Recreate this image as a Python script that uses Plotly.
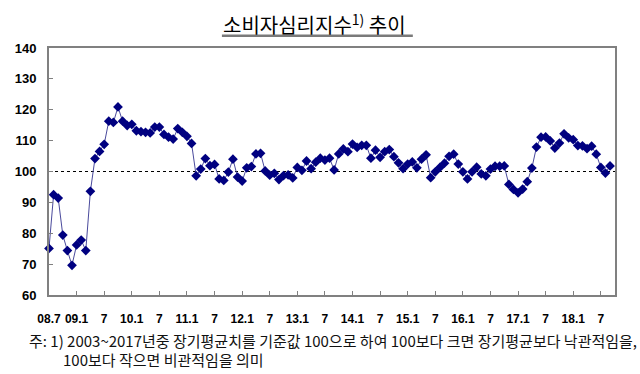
import plotly.graph_objects as go

# Monthly consumer sentiment index, 2008.7 - 2018.9
start_year, start_month = 2008, 7
csi_values = [
    75.1, 92.5, 91.4, 79.4, 74.4, 69.6,            # 2008.7-12
    76.2, 77.8, 74.4, 93.6, 104.2, 106.5,           # 2009.1-6
    108.8, 116.3, 115.9, 120.9, 116.3, 114.9,       # 2009.7-12
    115.3, 113.2, 112.9, 112.7, 112.5, 114.4,       # 2010.1-6
    114.4, 112.0, 111.1, 110.5, 113.9, 112.7,       # 2010.7-12
    111.4, 109.1, 98.6, 100.8, 104.2, 101.9,        # 2011.1-6
    102.3, 97.6, 97.1, 99.8, 104.0, 98.2,           # 2011.7-12
    96.9, 101.2, 101.6, 105.7, 105.9, 100.2,        # 2012.1-6
    98.8, 99.4, 97.4, 98.7, 98.9, 97.9,             # 2012.7-12
    101.3, 100.4, 103.4, 100.9, 103.0, 104.3,       # 2013.1-6
    103.7, 104.3, 100.5, 105.7, 107.3, 106.4,       # 2013.7-12
    108.9, 107.8, 108.5, 108.5, 104.3, 106.9,       # 2014.1-6
    104.6, 106.4, 107.1, 104.8, 102.8, 100.9,       # 2014.7-12
    102.4, 103.1, 101.2, 104.0, 105.4, 98.0,        # 2015.1-6
    99.9, 101.3, 102.7, 104.9, 105.6, 102.4,        # 2015.7-12
    99.9, 97.6, 99.9, 101.4, 99.2, 98.6,            # 2016.1-6
    100.8, 101.7, 101.7, 101.8, 95.8, 94.2,         # 2016.7-12
    93.1, 94.3, 96.7, 101.1, 107.9, 111.1,          # 2017.1-6
    111.2, 109.9, 107.6, 109.2, 112.2, 110.9,       # 2017.7-12
    110.3, 108.4, 108.3, 107.4, 108.2, 105.6,       # 2018.1-6
    101.3, 99.5, 101.8,                             # 2018.7-9
]
month_labels = []
y, m = start_year, start_month
for _ in csi_values:
    month_labels.append(f"{y}.{m:02d}")
    m += 1
    if m > 12:
        y, m = y + 1, 1
x_index = list(range(len(csi_values)))

tick_positions = list(range(0, 121, 6))
tick_labels = ["08.7", "09.1", "7", "10.1", "7", "11.1", "7", "12.1", "7", "13.1", "7",
               "14.1", "7", "15.1", "7", "16.1", "7", "17.1", "7", "18.1", "7"]
baseline_value = 100

title_text = "소비자심리지수<sup>1)</sup> 추이"
note_line1 = "주: 1) 2003~2017년중 장기평균치를 기준값 100으로 하여 100보다 크면 장기평균보다 낙관적임을,"
note_line2 = "100보다 작으면 비관적임을 의미"

fig = go.Figure()
fig.add_trace(go.Scatter(
    x=x_index, y=csi_values, customdata=month_labels,
    mode="lines+markers",
    line=dict(color="#4a4a9c", width=1),
    marker=dict(symbol="diamond", size=7.5, color="#000080"),
    cliponaxis=False,
    hovertemplate="%{customdata}: %{y}<extra></extra>",
    showlegend=False,
))

fig.add_shape(type="line", xref="paper", yref="y", x0=0, x1=1,
              y0=baseline_value, y1=baseline_value,
              line=dict(color="#000000", width=1, dash="dot"), layer="below")

fig.update_layout(
    width=640, height=374,
    margin=dict(l=49, r=25, t=48, b=79),
    paper_bgcolor="white", plot_bgcolor="white",
    xaxis=dict(
        range=[0, 123.08], tickmode="array", tickvals=tick_positions, ticktext=tick_labels,
        ticks="inside", ticklen=4, tickcolor="#808080", tickwidth=1,
        showline=True, linecolor="#808080", linewidth=2, mirror=True,
        showgrid=False, zeroline=False, automargin=False,
        tickfont=dict(family="Liberation Sans", size=12, weight="bold", color="#000000"),
        ticklabelstandoff=12,
    ),
    yaxis=dict(
        range=[60, 140], dtick=10, tick0=60,
        ticks="inside", ticklen=4, tickcolor="#808080", tickwidth=1,
        showline=True, linecolor="#808080", linewidth=2, mirror=True,
        showgrid=False, zeroline=False, automargin=False,
        tickfont=dict(family="Liberation Sans", size=13, weight="bold", color="#000000"),
        ticklabelstandoff=8,
    ),
    font=dict(family="Noto Sans CJK KR"),
)

fig.add_annotation(
    text=title_text, xref="paper", yref="paper", x=0.4695, y=1.098,
    xanchor="center", yanchor="middle", showarrow=False,
    font=dict(family="Noto Sans CJK KR", size=20, color="#000000"),
)
fig.add_shape(type="line", xref="paper", yref="paper", x0=0.3055, x1=0.6428,
              y0=1.0499, y1=1.0499, line=dict(color="#7a7a7a", width=2.5))

fig.add_annotation(
    text=note_line1, xref="paper", yref="paper", x=-0.0388, y=-0.1825,
    xanchor="left", yanchor="middle", showarrow=False,
    font=dict(family="Noto Sans CJK KR", size=15, color="#111111"),
)
fig.add_annotation(
    text=note_line2, xref="paper", yref="paper", x=0.0212, y=-0.2595,
    xanchor="left", yanchor="middle", showarrow=False,
    font=dict(family="Noto Sans CJK KR", size=15, color="#111111"),
)

fig.write_html("out.html", config={"displayModeBar": False},
               post_script="document.body.style.margin='0';")
